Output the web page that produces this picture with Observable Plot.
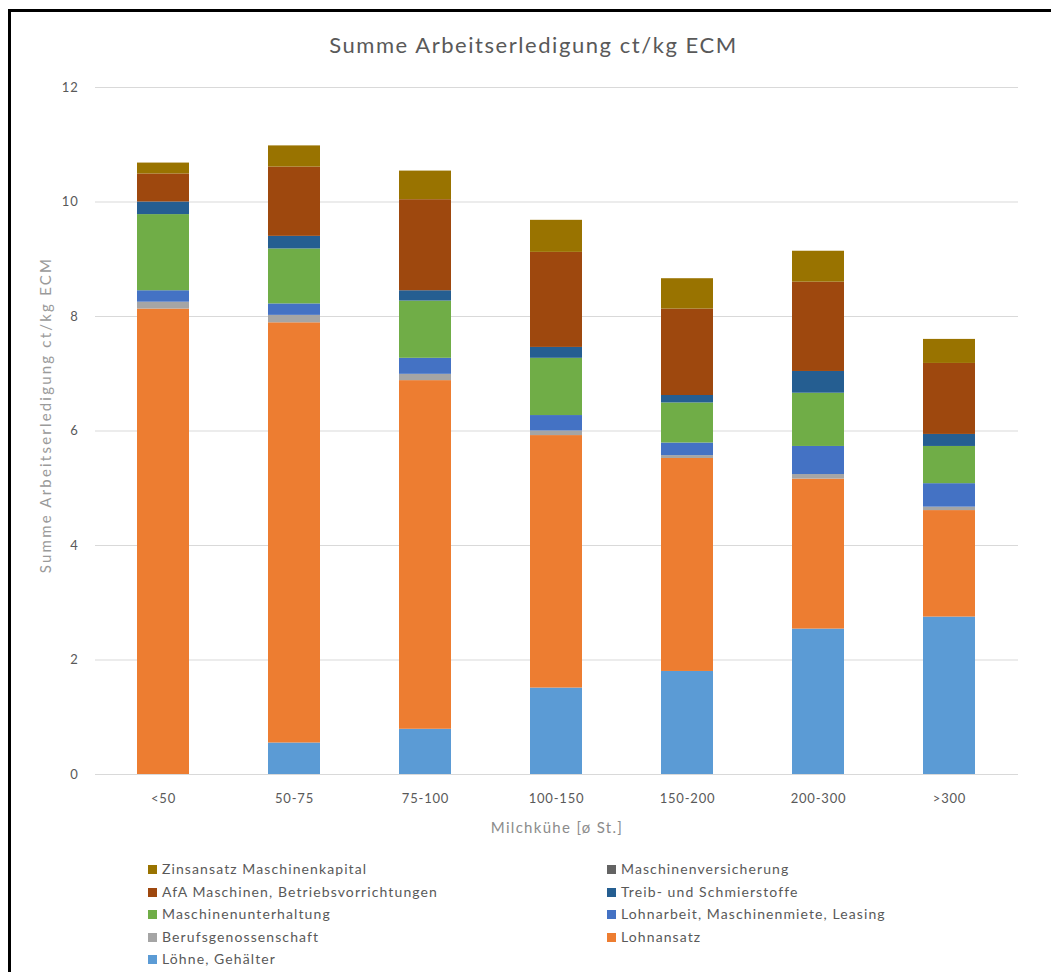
<!DOCTYPE html>
<html>
<head>
<meta charset="utf-8">
<script src="https://cdn.jsdelivr.net/npm/d3@7"></script>
<script src="https://cdn.jsdelivr.net/npm/@observablehq/plot@0.6"></script>
<style>
  html, body { margin: 0; padding: 0; background: #fff; width: 1051px; height: 972px; overflow: hidden; }
  body { position: relative; font-family: Lato, "Open Sans", sans-serif; }
  #frame { position: absolute; left: 8px; top: 9px; width: 1100px; height: 1100px; border-left: 3px solid #000; border-top: 3px solid #000; box-sizing: border-box; }
  #title { position: absolute; left: 0; width: 1067px; top: 31px; text-align: center; font-size: 22px; letter-spacing: 1.55px; color: #595959; }
  #ylabel { position: absolute; left: -155px; width: 400px; top: 405px; height: 20px; line-height: 20px; text-align: center;
            transform: rotate(-90deg); transform-origin: 200px 10px; font-size: 15px; letter-spacing: 2.2px; color: #9a9a9a; }
  #xlabel { position: absolute; left: 357px; width: 400px; top: 818px; text-align: center; font-size: 15px; letter-spacing: 1.3px; color: #8c8c8c; }
  #chart { position: absolute; left: 0; top: 0; }
  #legend { position: absolute; left: 0; top: 0; font-size: 14px; letter-spacing: 1.1px; color: #595959; }
  .item { position: absolute; white-space: nowrap; line-height: 16px; }
  .sw { display: inline-block; width: 9px; height: 9px; margin-right: 5px; vertical-align: 0px; }
</style>
</head>
<body>
<div id="frame"></div>
<div id="title">Summe Arbeitserledigung ct/kg ECM</div>
<div id="chart"></div>
<div id="ylabel">Summe Arbeitserledigung ct/kg ECM</div>
<div id="xlabel">Milchkühe [ø St.]</div>
<div id="legend"></div>
<script>
const categories = ["<50", "50-75", "75-100", "100-150", "150-200", "200-300", ">300"];
const seriesNames = [
  "Löhne, Gehälter",
  "Lohnansatz",
  "Berufsgenossenschaft",
  "Lohnarbeit, Maschinenmiete, Leasing",
  "Maschinenunterhaltung",
  "Treib- und Schmierstoffe",
  "Maschinenversicherung",
  "AfA Maschinen, Betriebsvorrichtungen",
  "Zinsansatz Maschinenkapital"
];
const seriesColors = ["#5B9BD5", "#ED7D31", "#A5A5A5", "#4472C4", "#70AD47", "#255E91", "#636363", "#9E480E", "#997300"];
const loehne       = [0.00, 0.55, 0.79, 1.51, 1.80, 2.54, 2.75];
const lohnansatz   = [8.13, 7.34, 6.09, 4.41, 3.72, 2.62, 1.86];
const bg           = [0.12, 0.13, 0.11, 0.08, 0.05, 0.08, 0.06];
const lohnarbeit   = [0.20, 0.20, 0.28, 0.27, 0.22, 0.49, 0.41];
const unterhaltung = [1.33, 0.96, 1.00, 1.00, 0.70, 0.93, 0.65];
const treib        = [0.22, 0.22, 0.18, 0.19, 0.13, 0.38, 0.21];
const versicherung = [0.00, 0.00, 0.00, 0.00, 0.00, 0.00, 0.00];
const afa          = [0.49, 1.21, 1.59, 1.66, 1.51, 1.56, 1.24];
const zins         = [0.19, 0.37, 0.50, 0.56, 0.53, 0.54, 0.42];
const yTicks = [0, 2, 4, 6, 8, 10, 12];
const legendOrder = [
  "Zinsansatz Maschinenkapital", "Maschinenversicherung",
  "AfA Maschinen, Betriebsvorrichtungen", "Treib- und Schmierstoffe",
  "Maschinenunterhaltung", "Lohnarbeit, Maschinenmiete, Leasing",
  "Berufsgenossenschaft", "Lohnansatz",
  "Löhne, Gehälter"
];

const seriesValues = [loehne, lohnansatz, bg, lohnarbeit, unterhaltung, treib, versicherung, afa, zins];
const data = [];
seriesNames.forEach((s, si) => {
  categories.forEach((c, ci) => data.push({ cat: c, series: s, value: seriesValues[si][ci] }));
});

const chart = Plot.plot({
  width: 1051,
  height: 850,
  marginLeft: 95,
  marginRight: 33,
  marginTop: 87,
  marginBottom: 76,
  style: { fontFamily: "Lato, 'Open Sans', sans-serif", fontSize: "12px", color: "#595959", background: "transparent" },
  x: { domain: categories, paddingInner: 0.6, paddingOuter: 0.3 },
  y: { domain: [0, 12] },
  color: { domain: seriesNames, range: seriesColors },
  marks: [
    Plot.gridY(yTicks, { stroke: "#d9d9d9", strokeOpacity: 1, strokeWidth: 1 }),
    Plot.barY(data, { x: "cat", y: "value", fill: "series", order: seriesNames }),
    Plot.axisY(yTicks, { tickSize: 0, tickPadding: 17, fontSize: 13, fill: "#595959", tickFormat: d => String(d), label: null }),
    Plot.axisX({ tickSize: 0, tickPadding: 19, fontSize: 13, fill: "#595959", label: null })
  ]
});
document.getElementById("chart").appendChild(chart);
d3.select(chart).selectAll("[aria-label='y-axis tick label'] text, [aria-label='x-axis tick label'] text")
  .style("letter-spacing", "0.8px");

const legend = document.getElementById("legend");
legendOrder.forEach((name, i) => {
  const col = i % 2, row = Math.floor(i / 2);
  const div = document.createElement("div");
  div.className = "item";
  div.style.left = (col === 0 ? 148 : 607) + "px";
  div.style.top = (861 + row * 22.5) + "px";
  const sw = document.createElement("span");
  sw.className = "sw";
  sw.style.background = seriesColors[seriesNames.indexOf(name)];
  div.appendChild(sw);
  div.appendChild(document.createTextNode(name));
  legend.appendChild(div);
});
</script>
</body>
</html>
